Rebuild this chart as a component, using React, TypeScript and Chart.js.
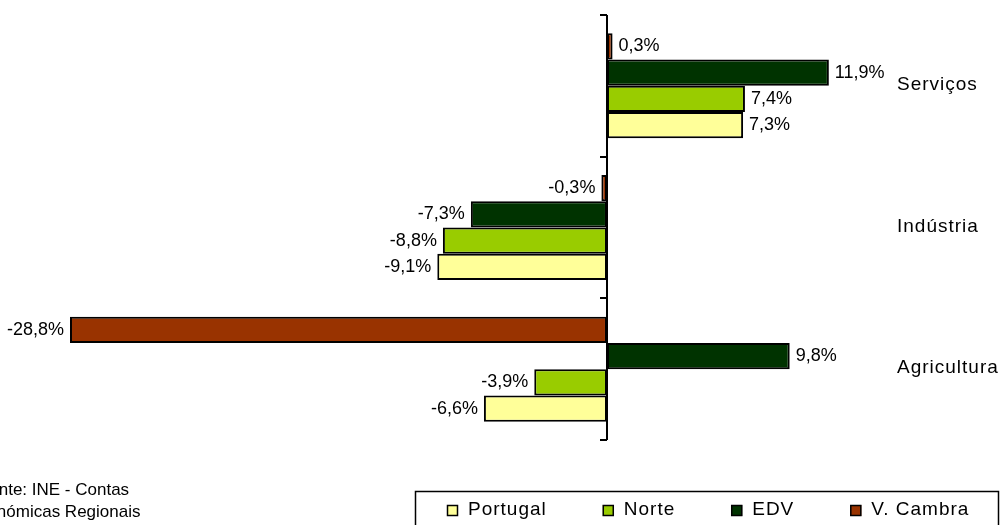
import React, { useEffect, useRef } from "react";
import { Chart, registerables } from "chart.js";

Chart.register(...registerables);

const categories = ["Serviços", "Indústria", "Agricultura"];
const portugal = [7.3, -9.1, -6.6];
const norte = [7.4, -8.8, -3.9];
const edv = [11.9, -7.3, 9.8];
const vCambra = [0.3, -0.3, -28.8];
const legendOrder = ["Portugal", "Norte", "EDV", "V. Cambra"];
const sourceLines = ["Fonte: INE - Contas", "Económicas Regionais"];

const FONT = '"Liberation Sans", Arial, Helvetica, sans-serif';

const fmt = (v: number) => v.toFixed(1).replace(".", ",") + "%";

const overlay = {
  id: "overlay",
  afterDatasetsDraw(chart: any) {
    const ctx = chart.ctx as CanvasRenderingContext2D;
    const xs = chart.scales.x;
    const ys = chart.scales.y;
    const ca = chart.chartArea;
    const x0 = Math.round(xs.getPixelForValue(0));
    ctx.save();

    // axis line + ticks
    ctx.strokeStyle = "#000";
    ctx.lineWidth = 2;
    ctx.beginPath();
    ctx.moveTo(x0, ca.top);
    ctx.lineTo(x0, ca.bottom);
    for (let i = 0; i <= categories.length; i++) {
      const yy = Math.round(ys.getPixelForValue(i - 0.5));
      ctx.moveTo(x0 - 7, yy);
      ctx.lineTo(x0, yy);
    }
    ctx.stroke();

    // data labels
    ctx.fillStyle = "#000";
    ctx.textBaseline = "middle";
    ctx.font = "18px " + FONT;
    (ctx as any).letterSpacing = "0px";
    chart.data.datasets.forEach((ds: any, di: number) => {
      const meta = chart.getDatasetMeta(di);
      meta.data.forEach((bar: any, i: number) => {
        const v = ds.data[i] as number;
        const t = fmt(v);
        if (v >= 0) {
          ctx.textAlign = "left";
          ctx.fillText(t, bar.x + 6, bar.y);
        } else {
          ctx.textAlign = "right";
          ctx.fillText(t, bar.x - 6, bar.y);
        }
      });
    });

    // category labels on the right
    ctx.font = "19px " + FONT;
    (ctx as any).letterSpacing = "1px";
    ctx.textAlign = "left";
    categories.forEach((c, i) => {
      ctx.fillText(c, 897, ys.getPixelForValue(i) - 1);
    });

    // legend
    ctx.lineWidth = 1.5;
    ctx.strokeStyle = "#000";
    ctx.strokeRect(415.5, 491.5, 583, 50);
    let lx = 447;
    const ly = 510;
    legendOrder.forEach((name) => {
      const ds = chart.data.datasets.find((d: any) => d.label === name);
      ctx.fillStyle = ds.backgroundColor;
      ctx.fillRect(lx, ly - 5, 11, 11);
      ctx.lineWidth = 1.5;
      ctx.strokeRect(lx + 0.5, ly - 4.5, 10, 10);
      ctx.fillStyle = "#000";
      ctx.fillText(name, lx + 21, ly);
      const w = ctx.measureText(name).width;
      lx = lx + 21 + w + 56;
    });

    // source text
    ctx.font = "17px " + FONT;
    (ctx as any).letterSpacing = "0px";
    ctx.textAlign = "center";
    sourceLines.forEach((l, i) => {
      ctx.fillText(l, 54, 490 + i * 22);
    });

    ctx.restore();
  },
};

export default function App() {
  const ref = useRef<HTMLCanvasElement | null>(null);
  useEffect(() => {
    if (!ref.current) return;
    const common = {
      borderColor: "#000",
      borderWidth: 2,
      borderSkipped: false,
      barPercentage: 1,
      categoryPercentage: 0.741,
    };
    const chart = new Chart(ref.current, {
      type: "bar",
      data: {
        labels: categories,
        datasets: [
          { label: "V. Cambra", data: vCambra, backgroundColor: "#993300", ...common },
          { label: "EDV", data: edv, backgroundColor: "#003300", ...common },
          { label: "Norte", data: norte, backgroundColor: "#99CC00", ...common },
          { label: "Portugal", data: portugal, backgroundColor: "#FFFF99", ...common },
        ] as any,
      },
      options: {
        indexAxis: "y",
        responsive: false,
        animation: false,
        devicePixelRatio: 1,
        layout: { padding: { left: 47.6, right: 24.1, top: 15, bottom: 85 } },
        scales: {
          x: { display: false, min: -30, max: 20 },
          y: { display: false, offset: true },
        },
        plugins: {
          legend: { display: false },
          tooltip: { enabled: false },
        },
      } as any,
      plugins: [overlay],
    });
    return () => chart.destroy();
  }, []);
  return (
    <div style={{ position: "fixed", left: 0, top: 0, width: 1004, height: 525, background: "#fff" }}>
      <canvas ref={ref} width={1004} height={525} />
    </div>
  );
}
